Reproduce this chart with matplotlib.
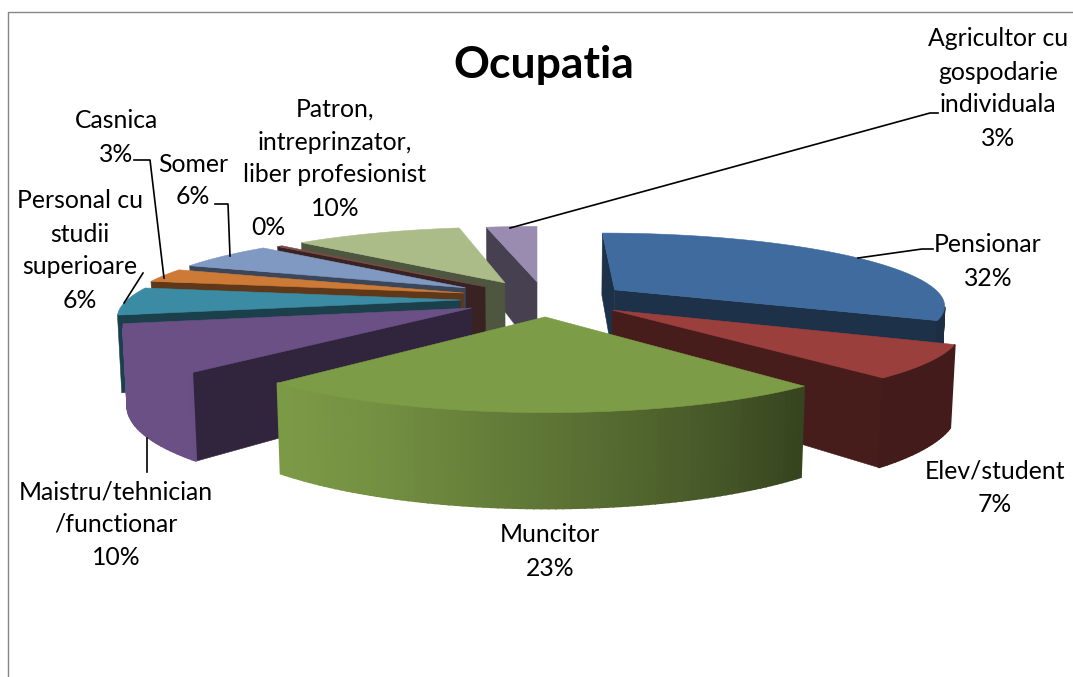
import numpy as np
import matplotlib as mpl
mpl.use("Agg")
import matplotlib.pyplot as plt
from matplotlib.patches import Polygon

plt.rcParams["font.family"] = ["Lato", "DejaVu Sans"]

CATEGORIES = [
    "Pensionar", "Elev/student", "Muncitor", "Maistru/tehnician\n/functionar",
    "Personal cu\nstudii\nsuperioare", "Casnica", "Somer",
    "", "Patron,\nintreprinzator,\nliber profesionist", "Agricultor cu\ngospodarie\nindividuala",
]
VALUES = [32, 7, 23, 10, 6, 3, 6, 0.3, 10, 3]
PCT_LABELS = ["32%", "7%", "23%", "10%", "6%", "3%", "6%", "0%", "10%", "3%"]

COLORS = ["#3f6b9e", "#9b3f3d", "#7d9c47", "#6a5084", "#3a8ba3",
          "#cc7a35", "#8099c2", "#7b4b49", "#abbc89", "#9a8cb0"]

# slice offsets on the pie plane (exploded by hand in the original)
EXPLODE_X = [0.237, 0.218, 0.023, -0.19, -0.227, -0.222, -0.22, -0.16, -0.10, 0.0]
EXPLODE_Y = [0.116, -0.163, -0.25, -0.136, -0.028, 0.07, 0.146, 0.16, 0.22, 0.235]
RADII = [0.98, 0.98, 0.965, 0.985, 0.99, 1.0, 0.98, 1.0, 1.0, 1.0]

# label centres in pixels
LABEL_X = [988, 995, 550, 116, 80, 116, 193, 268, 335, 998]
LABEL_Y = [261, 487, 551, 524, 250, 137, 180, 227, 158, 88]
LINE_STEP = 33

LEADERS = [
    [(858, 258), (922, 249), (933, 249)],
    [(147, 438), (147, 472)],
    [(124, 303), (143, 273)],
    [(164, 278), (150, 160), (134, 160)],
    [(230, 256), (228, 204), (215, 204)],
    [(510, 228), (930, 113), (938, 113)],
]

WALL_ANGLES = [140, 180, 205, 225]
WALL_LIGHT = [0.43, 0.75, 0.93, 1.0]

CX, CY = 537, 298
FOCAL = 1675.0
DIST = 5.0
ELEV = np.radians(12.4)
HEIGHT = 0.23


def project(x, y, z=0.0):
    depth = DIST + y * np.cos(ELEV) - z * np.sin(ELEV)
    up = y * np.sin(ELEV) + z * np.cos(ELEV)
    return CX + FOCAL * x / depth, CY - FOCAL * up / depth


def camera():
    return np.array([0.0, -DIST * np.cos(ELEV)])


def facing(normal_deg, px, py):
    n = np.array([np.sin(np.radians(normal_deg)), np.cos(np.radians(normal_deg))])
    return np.dot(n, camera() - np.array([px, py])) > 0


def shade(color, f):
    return tuple(np.array(mpl.colors.to_rgb(color)) * f)


def quad(ax, pts, color, zorder, lw=0.4):
    ax.add_patch(Polygon(pts, closed=True, facecolor=color, edgecolor=color, lw=lw, zorder=zorder))


def draw_slice(ax, t0, t1, ox, oy, radius, color, zorder):
    # side cuts first, then the rim, then the top
    for edge, normal in ((t0, t0 - 90), (t1, t1 + 90)):
        ex = ox + radius * np.sin(np.radians(edge))
        ey = oy + radius * np.cos(np.radians(edge))
        if facing(normal, ox, oy):
            pts = [project(ox, oy), project(ex, ey), project(ex, ey, -HEIGHT), project(ox, oy, -HEIGHT)]
            quad(ax, pts, shade(color, 0.46), zorder)

    thetas = np.linspace(t0, t1, max(int(t1 - t0) + 2, 2))
    for a, b in zip(thetas[:-1], thetas[1:]):
        mid = (a + b) / 2
        ax0 = ox + radius * np.sin(np.radians(a))
        ay0 = oy + radius * np.cos(np.radians(a))
        ax1 = ox + radius * np.sin(np.radians(b))
        ay1 = oy + radius * np.cos(np.radians(b))
        if facing(mid, (ax0 + ax1) / 2, (ay0 + ay1) / 2):
            pts = [project(ax0, ay0), project(ax1, ay1), project(ax1, ay1, -HEIGHT), project(ax0, ay0, -HEIGHT)]
            light = np.interp(mid, WALL_ANGLES, WALL_LIGHT)
            quad(ax, pts, shade(color, light), zorder + 0.1, lw=1.2)

    top = [project(ox, oy)]
    for t in thetas:
        top.append(project(ox + radius * np.sin(np.radians(t)), oy + radius * np.cos(np.radians(t))))
    quad(ax, top, color, zorder + 0.2)


def draw_label(ax, name, pct, x, y):
    lines = (name.split("\n") if name else []) + [pct]
    for k, line in enumerate(lines):
        base = y + (k - (len(lines) - 1) / 2) * LINE_STEP + 8
        ax.text(x, base, line, ha="center", va="baseline", fontsize=17.8, color="black", zorder=40)


def main():
    fig = plt.figure(figsize=(10.73, 6.77), dpi=100)
    ax = fig.add_axes([0, 0, 1, 1])
    ax.set_xlim(0, 1073)
    ax.set_ylim(677, 0)
    ax.axis("off")

    ax.plot([8, 8, 1073], [677, 12, 12], color="#868686", lw=1.0, zorder=0)

    shares = np.asarray(VALUES, dtype=float)
    edges = np.concatenate([[0], np.cumsum(shares)]) / shares.sum() * 360
    mids = (edges[:-1] + edges[1:]) / 2
    depth = np.asarray(EXPLODE_Y) + 0.6 * np.cos(np.radians(mids))
    order = np.argsort(-depth)
    for rank, i in enumerate(order):
        draw_slice(ax, edges[i], edges[i + 1], EXPLODE_X[i], EXPLODE_Y[i], RADII[i], COLORS[i], 1 + rank)

    for pts in LEADERS:
        xs, ys = zip(*pts)
        ax.plot(xs, ys, color="black", lw=1.2, zorder=30)

    for name, pct, x, y in zip(CATEGORIES, PCT_LABELS, LABEL_X, LABEL_Y):
        draw_label(ax, name, pct, x, y)

    ax.text(544, 65, "Ocupatia", ha="center", va="center", fontsize=32, fontweight="bold", zorder=40)

    fig.savefig("out.png", dpi=100)
    plt.close(fig)


if __name__ == "__main__":
    main()
